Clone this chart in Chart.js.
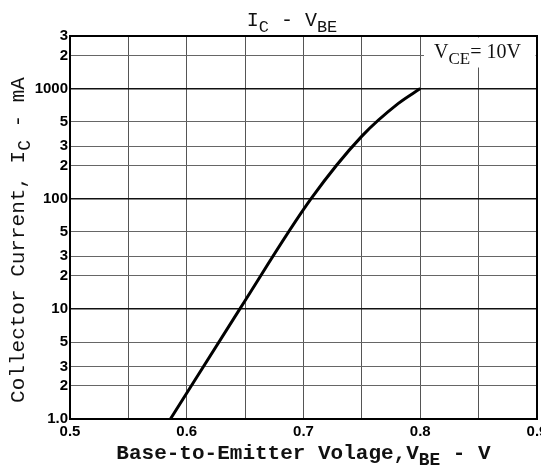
<!DOCTYPE html>
<html>
<head>
<meta charset="utf-8">
<title>IC - VBE</title>
<script src="https://cdn.jsdelivr.net/npm/chart.js@4/dist/chart.umd.min.js"></script>
<style>
  html, body { margin: 0; padding: 0; background: #fff; }
  #wrap { width: 541px; height: 469px; position: relative; }
</style>
</head>
<body>
<div id="wrap"><canvas id="chart"></canvas></div>
<script>
// curve: base-emitter voltage (V) vs collector current (mA)
const vbe = [0.586, 0.6455, 0.7065, 0.750, 0.781, 0.800];
const ic  = [1.0,   10,     100,    370,   730,   1000];

const xTicks = [0.5, 0.55, 0.6, 0.65, 0.7, 0.75, 0.8, 0.85, 0.9];
const xTickLabels = ['0.5', '', '0.6', '', '0.7', '', '0.8', '', '0.9'];

const yTicks = [1, 2, 3, 5, 10, 20, 30, 50, 100, 200, 300, 500, 1000, 2000, 3000];
const yTickLabels = ['1.0', '2', '3', '5', '10', '2', '3', '5', '100', '2', '3', '5', '1000', '2', '3'];
const yMajor = [10, 100, 1000];

const mono = '"Liberation Mono", "DejaVu Sans Mono", monospace';

// draw a run of text pieces, some of them subscripts, starting at x
function drawRuns(ctx, runs, x, y, size, weight) {
  runs.forEach((r) => {
    const s = r.sub ? size * 0.85 : size;
    ctx.font = `${weight} ${s}px ${r.font || mono}`;
    ctx.fillText(r.t, x, r.sub ? y + size * 0.3 : y);
    x += ctx.measureText(r.t).width;
  });
}
function runsWidth(ctx, runs, size, weight) {
  let w = 0;
  runs.forEach((r) => {
    const s = r.sub ? size * 0.85 : size;
    ctx.font = `${weight} ${s}px ${r.font || mono}`;
    w += ctx.measureText(r.t).width;
  });
  return w;
}

const labels = {
  id: 'labels',
  afterDraw(chart) {
    const { ctx, chartArea: a } = chart;
    ctx.save();

    // frame
    ctx.strokeStyle = '#000';
    ctx.lineWidth = 2;
    ctx.strokeRect(a.left, a.top, a.right - a.left, a.bottom - a.top);

    // condition box, top right
    ctx.fillStyle = '#fff';
    ctx.fillRect(424, a.top + 1.5, a.right - 425.5, 30);
    ctx.fillStyle = '#111';
    ctx.textBaseline = 'alphabetic';
    const serif = '"Liberation Serif", serif';
    drawRuns(ctx, [
      { t: 'V', font: serif }, { t: 'CE', sub: true, font: serif }, { t: '= 10V', font: serif },
    ], 434, 58, 20, 'normal');

    // title
    const title = [{ t: 'I' }, { t: 'C', sub: true }, { t: ' - V' }, { t: 'BE', sub: true }];
    const tw = runsWidth(ctx, title, 20, 'normal');
    drawRuns(ctx, title, 292 - tw / 2, 26, 20, 'normal');

    // x axis title
    const xt = [{ t: 'Base-to-Emitter Volage,V' }, { t: 'BE', sub: true }, { t: ' - V' }];
    const xw = runsWidth(ctx, xt, 21, 'bold');
    drawRuns(ctx, xt, (a.left + a.right) / 2 - xw / 2, 459, 21, 'bold');

    // y axis title
    const yt = [{ t: 'Collector Current, I' }, { t: 'C', sub: true }, { t: ' - mA' }];
    const yw = runsWidth(ctx, yt, 21, 'normal');
    ctx.translate(24, 240);
    ctx.rotate(-Math.PI / 2);
    drawRuns(ctx, yt, -yw / 2, 0, 21, 'normal');

    ctx.restore();
  },
};

new Chart(document.getElementById('chart'), {
  type: 'line',
  data: {
    datasets: [{
      data: vbe.map((v, i) => ({ x: v, y: ic[i] })),
      borderColor: '#000',
      borderWidth: 3,
      pointRadius: 0,
      cubicInterpolationMode: 'monotone',
      fill: false,
    }],
  },
  options: {
    responsive: true,
    maintainAspectRatio: false,
    animation: false,
    layout: { padding: { top: 36, right: 4, left: 0, bottom: 0 } },
    plugins: { legend: { display: false }, tooltip: { enabled: false }, title: { display: false } },
    scales: {
      x: {
        type: 'linear',
        min: 0.5,
        max: 0.9,
        afterBuildTicks: (s) => { s.ticks = xTicks.map((v) => ({ value: v })); },
        afterFit: (s) => { s.height = 50; s.paddingLeft = 0; s.paddingRight = 0; },
        border: { display: false },
        grid: { color: '#555', lineWidth: 1, drawTicks: false },
        ticks: {
          autoSkip: false,
          maxRotation: 0,
          padding: 4,
          color: '#000',
          font: { family: '"Liberation Sans", Arial, sans-serif', size: 15, weight: 'bold' },
          callback: (v, i) => xTickLabels[i],
        },
      },
      y: {
        type: 'logarithmic',
        min: 1,
        max: 3000,
        afterBuildTicks: (s) => { s.ticks = yTicks.map((v) => ({ value: v })); },
        afterFit: (s) => { s.width = 70; s.paddingTop = 0; s.paddingBottom = 0; },
        border: { display: false },
        grid: {
          drawTicks: false,
          color: (c) => (c.tick && yMajor.includes(c.tick.value) ? '#111' : '#666'),
          lineWidth: (c) => (c.tick && yMajor.includes(c.tick.value) ? 1.6 : 1),
        },
        ticks: {
          autoSkip: false,
          padding: 2,
          color: '#000',
          font: { family: '"Liberation Sans", Arial, sans-serif', size: 15, weight: 'bold' },
          callback: (v, i) => yTickLabels[i],
        },
      },
    },
  },
  plugins: [labels],
});
</script>
</body>
</html>
